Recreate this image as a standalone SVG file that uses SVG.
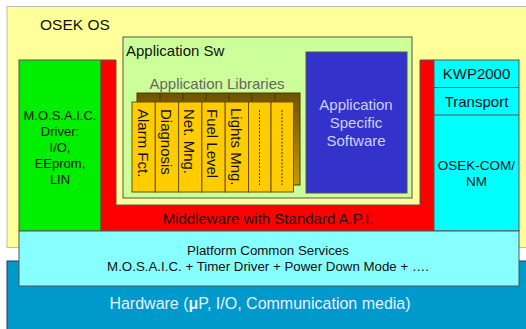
<svg xmlns="http://www.w3.org/2000/svg" width="526" height="329" viewBox="0 0 526 329">
<defs>
<style>
text{font-family:"Liberation Sans",Arial,sans-serif;font-size:13px;fill:#111}
.b{stroke:#555;stroke-width:1}
.card{fill:#FFCC00;stroke:#6b5200;stroke-width:1}
.v{font-size:15px}
.c{text-anchor:middle}
.m{font-size:15px}
</style>
<linearGradient id="shg" x1="0" y1="0" x2="0" y2="1">
<stop offset="0" stop-color="#6e5200"/>
<stop offset="1" stop-color="#c89a00"/>
</linearGradient>
</defs>
<rect width="526" height="329" fill="#fff"/>
<g id="osek">
<rect x="7" y="6.5" width="525" height="241" fill="#FFFF99" stroke="#bbb"/>
<text x="40" y="30" style="font-size:15.5px">OSEK OS</text>
</g>
<g id="hardware">
<rect x="7" y="261" width="525" height="75" fill="#0099CC" stroke="#336"/>
<text x="260" y="309" class="c" style="font-size:16px;fill:#e6f4ff">Hardware (<tspan font-weight="bold">μ</tspan>P, I/O, Communication media)</text>
</g>
<g id="mosaic">
<rect x="19" y="60" width="82" height="171" fill="#00EE00" class="b"/>
<text x="60" y="120" class="c">M.O.S.A.I.C.</text>
<text x="60" y="136" class="c">Driver:</text>
<text x="60" y="152" class="c">I/O,</text>
<text x="60" y="168" class="c">EEprom,</text>
<text x="60" y="184" class="c">LIN</text>
</g>
<g id="middleware">
<path d="M101,60 H116 V205 H420 V60 H434 V231 H101 Z" fill="#FF0000" class="b"/>
<text x="268" y="223.5" class="c m">Middleware with Standard A.P.I.</text>
</g>
<g id="appsw">
<rect x="123" y="37" width="289" height="161" fill="#CCFF99" class="b"/>
<text x="126" y="55.5" class="m">Application Sw</text>
</g>
<g id="applibs">
<text x="217" y="88.5" class="c m" style="fill:#666">Application Libraries</text>
<rect x="137" y="93" width="163" height="92" fill="url(#shg)" stroke="#4a3800"/>
<path d="M160,93 V101 M183,93 V101 M206,93 V101 M229,93 V101 M252,93 V101 M275,93 V101" stroke="#4a3800"/>
<g id="lib-cards">
<rect x="132" y="102" width="23.3" height="90" class="card"/>
<rect x="155.3" y="102" width="23.3" height="90" class="card"/>
<rect x="178.6" y="102" width="23.3" height="90" class="card"/>
<rect x="201.9" y="102" width="23.3" height="90" class="card"/>
<rect x="225.2" y="102" width="23.3" height="90" class="card"/>
<rect x="248.5" y="102" width="22.5" height="90" class="card"/>
<rect x="271" y="102" width="22.5" height="90" class="card"/>
</g>
<text class="v" transform="translate(137.5,109) rotate(90)">Alarm Fct.</text>
<text class="v" transform="translate(160.8,109) rotate(90)">Diagnosis</text>
<text class="v" transform="translate(184,109) rotate(90)">Net. Mng.</text>
<text class="v" transform="translate(207.3,109) rotate(90)">Fuel Level</text>
<text class="v" transform="translate(230.5,108) rotate(90)">Lights Mng.</text>
<line x1="259.5" y1="110" x2="259.5" y2="185" stroke="#333" stroke-dasharray="2,1.5"/>
<line x1="282" y1="110" x2="282" y2="185" stroke="#333" stroke-dasharray="2,1.5"/>
</g>
<g id="appspecific">
<rect x="306" y="52" width="101" height="141" fill="#3333CC" class="b"/>
<text x="356" y="110" class="c m" style="fill:#D0D0F8">Application</text>
<text x="356" y="128" class="c m" style="fill:#D0D0F8">Specific</text>
<text x="356" y="146" class="c m" style="fill:#D0D0F8">Software</text>
</g>
<g id="comstack">
<rect x="434" y="60" width="85" height="171" fill="#00FFFF" class="b"/>
<line x1="434" y1="87.5" x2="519" y2="87.5" stroke="#555"/>
<line x1="434" y1="115" x2="519" y2="115" stroke="#555"/>
<text x="476.5" y="79" class="c m">KWP2000</text>
<text x="476.5" y="107" class="c m">Transport</text>
<text x="476.5" y="170" class="c" style="font-size:13.5px">OSEK-COM/</text>
<text x="476.5" y="186" class="c" style="font-size:13.5px">NM</text>
</g>
<g id="platform">
<rect x="19" y="231" width="500" height="55" fill="#88FFFF" class="b"/>
<text x="268" y="255" class="c" style="font-size:13.3px">Platform Common Services</text>
<text x="268" y="271" class="c" style="font-size:13.3px">M.O.S.A.I.C. + Timer Driver + Power Down Mode + ….</text>
</g>
<g id="connectors"></g>
</svg>
